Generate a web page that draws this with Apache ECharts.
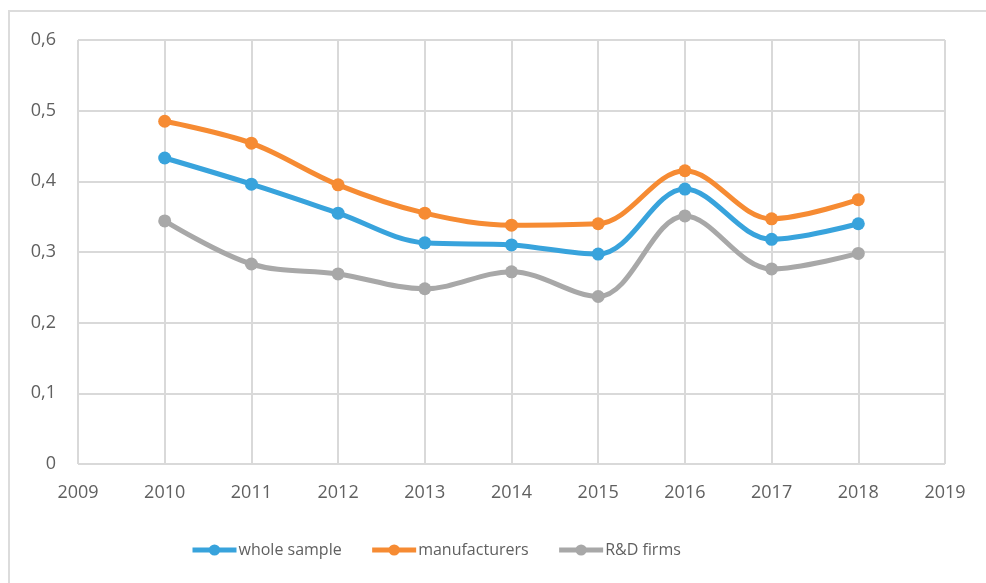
<!DOCTYPE html>
<html>
<head>
<meta charset="utf-8">
<script src="https://cdn.jsdelivr.net/npm/echarts@6/dist/echarts.min.js"></script>
<style>
  html, body { margin: 0; padding: 0; background: #fff; }
  .frame {
    position: absolute; left: 8px; top: 10px;
    width: 1000px; height: 600px;
    border: 2px solid #dcdcdc;
  }
  #chart { position: absolute; left: 0; top: 0; width: 986px; height: 583px; }
</style>
</head>
<body>
<div class="frame"></div>
<div id="chart"></div>
<script>
// years and values
var years = [2010, 2011, 2012, 2013, 2014, 2015, 2016, 2017, 2018];
var wholeSample   = [0.433, 0.396, 0.355, 0.313, 0.310, 0.297, 0.389, 0.318, 0.340];
var manufacturers = [0.485, 0.454, 0.395, 0.355, 0.338, 0.340, 0.415, 0.347, 0.374];
var rdFirms       = [0.344, 0.283, 0.269, 0.248, 0.272, 0.237, 0.351, 0.276, 0.298];
var seriesNames = ['whole sample', 'manufacturers', 'R&D firms'];
var colors = ['#38a3dc', '#f68b33', '#a8a8a8'];

function pairs(vals) {
  return years.map(function (y, i) { return [y, vals[i]]; });
}

var labelFont = { color: '#606060', fontSize: 18, fontFamily: 'Open Sans' };

var chart = echarts.init(document.getElementById('chart'));
chart.setOption({
  animation: false,
  color: colors,
  grid: { left: 78, right: 41, top: 40, bottom: 119 },
  legend: {
    bottom: 20,
    left: 185,
    itemWidth: 44,
    itemHeight: 14,
    itemGap: 28,
    lineStyle: { width: 5 },
    textStyle: { color: '#606060', fontSize: 16, fontFamily: 'Open Sans', padding: [0, 0, 0, -3] },
    data: seriesNames
  },
  xAxis: {
    type: 'value',
    min: 2009,
    max: 2019,
    interval: 1,
    axisLine: { show: false },
    axisTick: { show: false },
    splitLine: { show: true, lineStyle: { color: '#d9d9d9', width: 2 } },
    axisLabel: Object.assign({
      margin: 20,
      formatter: function (v) { return String(v); }
    }, labelFont)
  },
  yAxis: {
    type: 'value',
    min: 0,
    max: 0.6,
    interval: 0.1,
    axisLine: { show: false },
    axisTick: { show: false },
    splitLine: { show: true, lineStyle: { color: '#d9d9d9', width: 2 } },
    axisLabel: Object.assign({
      margin: 22,
      formatter: function (v) { return String(Math.round(v * 10) / 10).replace('.', ','); }
    }, labelFont)
  },
  series: [
    { name: seriesNames[0], type: 'line', smooth: 0.35, data: pairs(wholeSample) },
    { name: seriesNames[1], type: 'line', smooth: 0.35, data: pairs(manufacturers) },
    { name: seriesNames[2], type: 'line', smooth: 0.35, data: pairs(rdFirms) }
  ].map(function (s) {
    s.symbol = 'circle';
    s.symbolSize = 13;
    s.lineStyle = { width: 5 };
    return s;
  })
});
</script>
</body>
</html>
